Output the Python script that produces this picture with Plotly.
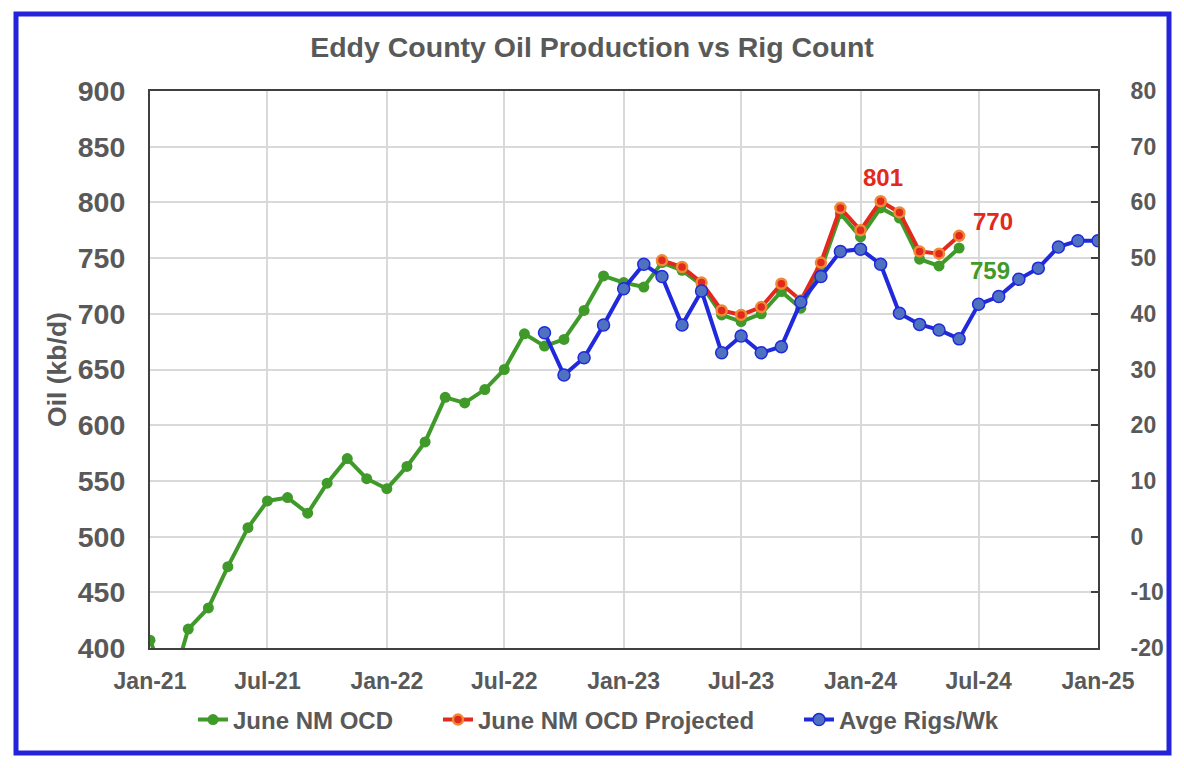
import plotly.graph_objects as go

# ---- data ----
green_months = ["2021-01", "2021-02", "2021-03", "2021-04", "2021-05", "2021-06", "2021-07", "2021-08",
                "2021-09", "2021-10", "2021-11", "2021-12", "2022-01", "2022-02", "2022-03", "2022-04",
                "2022-05", "2022-06", "2022-07", "2022-08", "2022-09", "2022-10", "2022-11", "2022-12",
                "2023-01", "2023-02", "2023-03", "2023-04", "2023-05", "2023-06", "2023-07", "2023-08",
                "2023-09", "2023-10", "2023-11", "2023-12", "2024-01", "2024-02", "2024-03", "2024-04",
                "2024-05", "2024-06"]
green_oil = [407, 361, 417, 436, 473, 508, 532, 535, 521, 548, 570, 552, 543, 563, 585, 625,
             620, 632, 650, 682, 671, 677, 703, 734, 728, 724, 746, 739, 726, 699, 693, 700,
             720, 705, 740, 790, 769, 795, 786, 749, 743, 759]

red_months = ["2023-03", "2023-04", "2023-05", "2023-06", "2023-07", "2023-08", "2023-09", "2023-10",
              "2023-11", "2023-12", "2024-01", "2024-02", "2024-03", "2024-04", "2024-05", "2024-06"]
red_oil = [748, 742, 728, 703, 699, 706, 727, 712, 746, 795, 775, 801, 791, 756, 754, 770]

blue_months = ["2022-09", "2022-10", "2022-11", "2022-12", "2023-01", "2023-02", "2023-03", "2023-04",
               "2023-05", "2023-06", "2023-07", "2023-08", "2023-09", "2023-10", "2023-11", "2023-12",
               "2024-01", "2024-02", "2024-03", "2024-04", "2024-05", "2024-06", "2024-07", "2024-08",
               "2024-09", "2024-10", "2024-11", "2024-12", "2025-01"]
blue_rigs = [36.6, 29, 32.1, 38, 44.5, 48.9, 46.7, 38, 44.1, 33, 36, 33, 34.1, 42.1, 46.7, 51.2,
             51.6, 48.9, 40.1, 38.1, 37.1, 35.5, 41.7, 43.1, 46.2, 48.2, 52, 53.1, 53.1]

tick_dates = ["2021-01-01", "2021-07-01", "2022-01-01", "2022-07-01", "2023-01-01",
              "2023-07-01", "2024-01-01", "2024-07-01", "2025-01-01"]
tick_labels = ["Jan-21", "Jul-21", "Jan-22", "Jul-22", "Jan-23", "Jul-23", "Jan-24", "Jul-24", "Jan-25"]

title_text = "Eddy County Oil Production vs Rig Count"
names = ["June NM OCD", "June NM OCD Projected", "Avge Rigs/Wk"]

# ---- style ----
GREEN = "#3f9a2a"
RED = "#e3281c"
ORANGE = "#ee8a36"
BLUE = "#2029dc"
BLUEFILL = "#4f72c0"
TXT = "#595959"
FONT = "Liberation Sans, Arial, sans-serif"

def d(m):
    return [x + "-01" for x in m]

fig = go.Figure()
fig.add_trace(go.Scatter(
    x=d(green_months), y=green_oil, name=names[0], mode="lines+markers",
    line=dict(color=GREEN, width=4), marker=dict(color=GREEN, size=11),
    legend="legend"))
fig.add_trace(go.Scatter(
    x=d(red_months), y=red_oil, name=names[1], mode="lines+markers",
    line=dict(color=RED, width=4), marker=dict(color=RED, size=10, line=dict(color=ORANGE, width=2.5)),
    legend="legend2"))
fig.add_trace(go.Scatter(
    x=d(blue_months), y=blue_rigs, name=names[2], mode="lines+markers", yaxis="y2",
    line=dict(color=BLUE, width=4), marker=dict(color=BLUEFILL, size=12, line=dict(color=BLUE, width=1.5)),
    legend="legend3"))

# page body has an 8px margin, so the figure starts at (8, 8)
OFF = 8
W, H = 1184 - OFF, 768 - OFF
PL, PR, PT, PB = 150, 1098, 91, 648   # plot area in window pixels
L, T = PL - OFF, PT - OFF
R = (OFF + W) - PR
B = (OFF + H) - PB
pw, ph = PR - PL, PB - PT

def px_x(p):
    return (p - PL) / pw

def px_y(p):
    return (PB - p) / ph

legend_common = dict(orientation="h", yanchor="middle", xanchor="left", bgcolor="rgba(0,0,0,0)",
                     font=dict(family=FONT, size=24, color=TXT, weight="bold"), itemwidth=30, tracegroupgap=0)

fig.update_layout(
    width=W, height=H,
    margin=dict(l=L, r=R, t=T, b=B, pad=0),
    paper_bgcolor="white", plot_bgcolor="white",
    title=dict(text="<b>" + title_text + "</b>", x=((308 + 876) / 2 - OFF) / W, xanchor="center",
               y=1 - (47 - OFF) / H, yanchor="middle",
               font=dict(family=FONT, size=28.5, color=TXT)),
    font=dict(family=FONT, color=TXT),
    xaxis=dict(type="date", range=["2021-01-01", "2025-01-01"], tickvals=tick_dates,
               ticktext=["<b>%s</b>" % t for t in tick_labels],
               tickfont=dict(family=FONT, size=23, color=TXT),
               showgrid=True, gridcolor="#d9d9d9", gridwidth=2,
               showline=True, linecolor="#404040", linewidth=2, mirror=True,
               ticks="", ticklabelstandoff=11),
    yaxis=dict(range=[400, 900], tickvals=list(range(400, 901, 50)),
               ticktext=["<b>%d</b>" % v for v in range(400, 901, 50)],
               tickfont=dict(family=FONT, size=28.5, color=TXT),
               title=dict(text="<b>Oil (kb/d)</b>", font=dict(family=FONT, size=26.5, color=TXT), standoff=3),
               showgrid=True, gridcolor="#d9d9d9", gridwidth=2, zeroline=False,
               showline=True, linecolor="#404040", linewidth=2, mirror=True, ticks="",
               ticklabelstandoff=17),
    yaxis2=dict(range=[-20, 80], overlaying="y", side="right",
                tickvals=list(range(-20, 81, 10)),
                ticktext=["<b>%d</b>" % v for v in range(-20, 81, 10)],
                tickfont=dict(family=FONT, size=23, color=TXT),
                showgrid=False, zeroline=False, showline=True, linecolor="#404040", linewidth=2,
                ticks="inside", ticklen=7, tickcolor="#404040", tickwidth=2,
                ticklabelstandoff=26),
    legend=dict(x=px_x(193), y=px_y(720), **legend_common),
    legend2=dict(x=px_x(438), y=px_y(720), **legend_common),
    legend3=dict(x=px_x(799), y=px_y(720), **legend_common),
    showlegend=True,
)

fig.add_annotation(x="2024-02-01", y=801, text="<b>801</b>", showarrow=False, yshift=24, xshift=2,
                   font=dict(family=FONT, size=24, color=RED))
fig.add_annotation(x="2024-06-01", y=770, text="<b>770</b>", showarrow=False, xshift=34, yshift=14,
                   font=dict(family=FONT, size=24, color=RED))
fig.add_annotation(x="2024-06-01", y=759, text="<b>759</b>", showarrow=False, xshift=31, yshift=-22,
                   font=dict(family=FONT, size=24, color=GREEN))

fig.add_shape(type="rect", xref="paper", yref="paper",
              x0=px_x(16), x1=px_x(1169), y0=px_y(753), y1=px_y(14),
              line=dict(color="#2323dc", width=5), fillcolor="rgba(0,0,0,0)", layer="above")

fig.write_html("out.html")
